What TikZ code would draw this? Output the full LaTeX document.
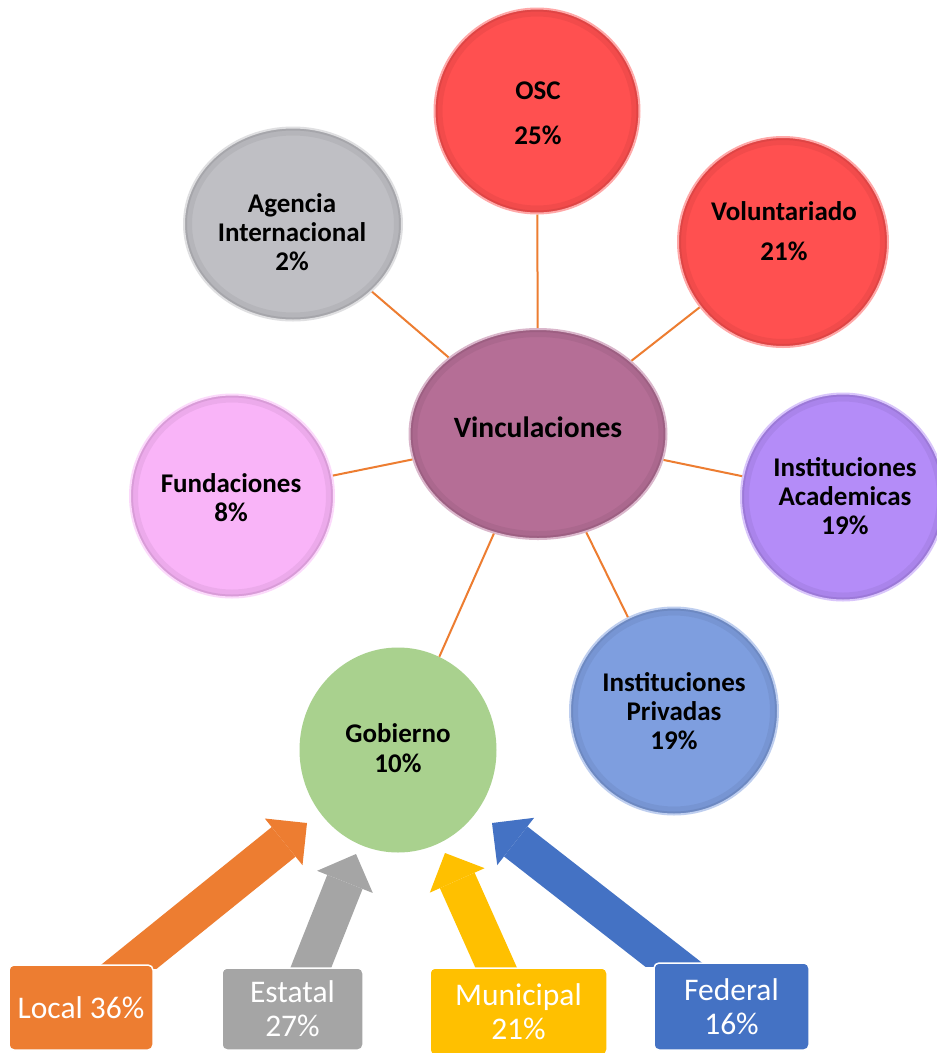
\documentclass[tikz,border=0pt]{standalone}
\usepackage{fontspec}
\setmainfont{Carlito}
\usetikzlibrary{shapes.geometric,arrows.meta,calc}
\definecolor{cOSC}{HTML}{FF5050}
\definecolor{cAg}{HTML}{BFBFC4}
\definecolor{cFu}{HTML}{F9B4F8}
\definecolor{cVi}{HTML}{B56E96}
\definecolor{cAc}{HTML}{B48CF8}
\definecolor{cPr}{HTML}{7E9EDF}
\definecolor{cGo}{HTML}{A9D18E}
\definecolor{cOr}{HTML}{ED7D31}
\definecolor{cGr}{HTML}{A5A5A5}
\definecolor{cYe}{HTML}{FFC000}
\definecolor{cBl}{HTML}{4472C4}
\tikzset{
  rim/.style={path picture={
      \draw[line width=16pt, black, opacity=0.05]
        let \p1=($(path picture bounding box.north east)-(path picture bounding box.center)$)
        in (path picture bounding box.center) ellipse ({\x1} and {\y1});
      \draw[line width=6pt, black, opacity=0.08]
        let \p1=($(path picture bounding box.north east)-(path picture bounding box.center)$)
        in (path picture bounding box.center) ellipse ({\x1} and {\y1});
    }},
  ball/.style={ellipse, inner sep=0pt, fill=#1, draw=#1!50!white, line width=2pt, rim},
  flatball/.style={ellipse, inner sep=0pt, fill=#1, draw=none},
  lbl/.style={font=\bfseries\fontsize{27}{29}\selectfont, align=center, anchor=base, inner sep=0pt},
  conn/.style={draw=cOr, line width=2pt},
  box/.style={rounded corners=5pt, fill=#1, draw=white, line width=1.5pt, text=white,
    align=center, font=\fontsize{31.5}{34}\selectfont, inner sep=0pt},
  bigarr/.style={draw=#1, line width=38pt,
    -{Triangle[length=30pt, width=60pt, line width=0pt]}},
}
\begin{document}
\begin{tikzpicture}[x=1pt,y=1pt]
\useasboundingbox (0,0) rectangle (937,-1053);
\fill[white] (0,0) rectangle (937,-1053);

% circles
\node[ball=cOSC, minimum width=205pt, minimum height=205pt] (osc) at (537,-111) {};
\node[ball=cOSC, minimum width=210pt, minimum height=210pt] (vol) at (783,-242) {};
\node[ball=cAg, minimum width=218pt, minimum height=193pt] (age) at (293,-224) {};
\node[ball=cFu, minimum width=204pt, minimum height=203pt] (fun) at (232,-496) {};
\node[ball=cVi, minimum width=257pt, minimum height=210pt] (vin) at (538,-434) {};
\node[ball=cAc, minimum width=204pt, minimum height=207pt] (aca) at (843,-497) {};
\node[ball=cPr, minimum width=208pt, minimum height=207pt] (pri) at (674,-711) {};
\node[flatball=cGo, minimum width=197pt, minimum height=205pt] (gob) at (398,-750) {};

% connectors
\draw[conn] (vin) -- (osc);
\draw[conn] (vin) -- (vol);
\draw[conn] (vin) -- (age);
\draw[conn] (vin) -- (fun);
\draw[conn] (vin) -- (aca);
\draw[conn] (vin) -- (pri);
\draw[conn] (vin) -- (gob);

% labels (anchor = baseline of last line)
\node[lbl] (tosc) at (538,-144) {OSC\\[16pt]25\%};
\node[lbl] (tvol) at (784,-260) {Voluntariado\\[11pt]21\%};
\node[lbl] (tage) at (292,-270) {Agencia\\Internacional\\2\%};
\node[lbl] (tfun) at (231,-521) {Fundaciones\\8\%};
\node[lbl, font=\bfseries\fontsize{29.5}{30}\selectfont] (tvin) at (538,-437) {Vinculaciones};
\node[lbl] (taca) at (845,-534) {Instituciones\\Academicas\\19\%};
\node[lbl] (tpri) at (674,-749) {Instituciones\\Privadas\\19\%};
\node[lbl] (tgob) at (398,-772) {Gobierno\\[1pt]10\%};

% boxes (positions)
\node[box=cOr, minimum width=144pt, minimum height=85pt] (local) at (81,-1007.5) {};
\node[box=cGr, minimum width=141pt, minimum height=82pt] (estatal) at (292.5,-1009) {};
\node[box=cYe, minimum width=177pt, minimum height=87pt] (municipal) at (518.5,-1011.5) {};
\node[box=cBl, minimum width=155pt, minimum height=87pt] (federal) at (731.5,-1006.5) {};

% arrow tips
\coordinate (tipL) at (307,-823);
\coordinate (tipE) at (356,-854);
\coordinate (tipM) at (445,-853);
\coordinate (tipF) at (492,-823);

\begin{scope}
  \clip (-10,10) rectangle ([xshift=900pt,yshift=-4pt]local.north);
  \draw[bigarr=cOr] ($(tipL)!1.3!([xshift=51pt]local.north)$) -- (tipL);
\end{scope}
\begin{scope}
  \clip (-10,10) rectangle ([xshift=900pt,yshift=-4pt]estatal.north);
  \draw[bigarr=cGr] ($(tipE)!1.3!([xshift=18.5pt]estatal.north)$) -- (tipE);
\end{scope}
\begin{scope}
  \clip (-10,10) rectangle ([xshift=900pt,yshift=-4pt]municipal.north);
  \draw[bigarr=cYe] ($(tipM)!1.3!([xshift=-22.5pt]municipal.north)$) -- (tipM);
\end{scope}
\begin{scope}
  \clip (-10,10) rectangle ([xshift=900pt,yshift=-4pt]federal.north);
  \draw[bigarr=cBl] ($(tipF)!1.3!([xshift=-61pt]federal.north)$) -- (tipF);
\end{scope}

% boxes on top
\node[box=cOr, minimum width=144pt, minimum height=85pt] at (local) {Local 36\%};
\node[box=cGr, minimum width=141pt, minimum height=82pt] at (estatal) {Estatal\\27\%};
\node[box=cYe, minimum width=177pt, minimum height=87pt] at (municipal) {Municipal\\21\%};
\node[box=cBl, minimum width=155pt, minimum height=87pt] at (federal) {Federal\\16\%};
\end{tikzpicture}
\end{document}
